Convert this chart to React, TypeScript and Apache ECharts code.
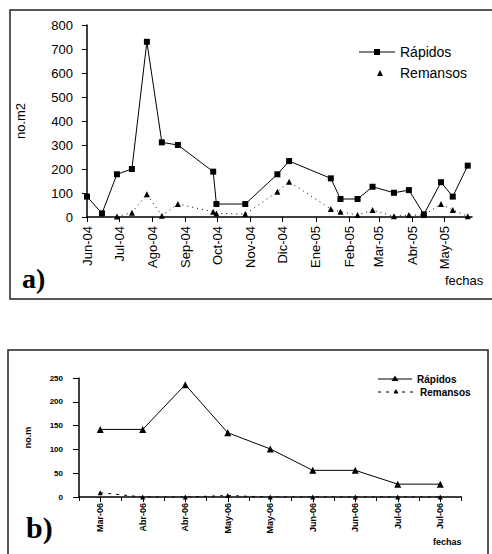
import React, { useEffect, useRef } from "react";
import * as echarts from "echarts";

// ---------- Chart a) ----------
const datesA = [
  "2004-06-01", "2004-06-15", "2004-06-29", "2004-07-13", "2004-07-27", "2004-08-10",
  "2004-08-25", "2004-09-27", "2004-09-30", "2004-10-27", "2004-11-26", "2004-12-07",
  "2005-01-15", "2005-01-24", "2005-02-09", "2005-02-23", "2005-03-15", "2005-03-29",
  "2005-04-12", "2005-04-28", "2005-05-09", "2005-05-23",
];
const rapidosA = [85, 15, 178, 200, 730, 311, 300, 189, 54, 54, 178, 233, 161, 75, 75, 126, 101, 112, 11, 145, 85, 214];
const remansosA = [null, null, 2, 18, 95, 5, 54, 22, 15, 12, 105, 147, 33, 22, 8, 29, 3, 8, 8, 54, 29, 3];
const monthLabelsA = ["Jun-04", "Jul-04", "Ago-04", "Sep-04", "Oct-04", "Nov-04", "Dic-04", "Ene-05", "Feb-05", "Mar-05", "Abr-05", "May-05"];
const yTicksA = [0, 100, 200, 300, 400, 500, 600, 700, 800];

// ---------- Chart b) ----------
const categoriesB = ["Mar-06", "Abr-06", "Abr-06", "May-06", "May-06", "Jun-06", "Jun-06", "Jul-06", "Jul-06"];
const rapidosB = [142, 142, 236, 135, 101, 56, 56, 27, 27];
const remansosB = [9, 0, 0, 3, 0, 0, 0, 0, 0];
const yTicksB = [0, 50, 100, 150, 200, 250];

const DAY = 86400000;
const origin = Date.UTC(2004, 5, 1);
const toDay = (s: string) => {
  const [y, m, d] = s.split("-").map(Number);
  return Math.round((Date.UTC(y, m - 1, d) - origin) / DAY);
};
const monthDays = monthLabelsA.map((_, i) => Math.round((Date.UTC(2004, 5 + i, 1) - origin) / DAY));

const SANS = "'Liberation Sans', Arial, sans-serif";

export default function App() {
  const ref = useRef<HTMLDivElement>(null);
  useEffect(() => {
    if (!ref.current) return;
    const chart = echarts.init(ref.current, undefined, { renderer: "svg" });
    const black = "#000";
    const option: any = {
      animation: false,
      backgroundColor: "#fff",
      grid: [
        { left: 87, top: 25, width: 385, height: 192 },
        { left: 79, top: 378, width: 382.5, height: 119 },
      ],
      xAxis: [
        {
          type: "value",
          gridIndex: 0,
          min: 0,
          max: 360,
          axisLine: { show: true, onZero: false, lineStyle: { color: black, width: 1.5 } },
          axisTick: { show: true, length: 5, lineStyle: { color: black }, customValues: monthDays },
          axisLabel: {
            customValues: monthDays,
            rotate: 90,
            fontSize: 13,
            fontFamily: SANS,
            color: black,
            margin: 9,
            formatter: (v: number) => {
              const i = monthDays.indexOf(Math.round(v));
              return i >= 0 ? monthLabelsA[i] : "";
            },
          },
          splitLine: { show: false },
        },
        {
          type: "category",
          gridIndex: 1,
          position: "bottom",
          data: categoriesB,
          boundaryGap: true,
          axisLine: { show: true, onZero: false, lineStyle: { color: black, width: 1.5 } },
          axisTick: { show: true, alignWithLabel: true, length: 5, lineStyle: { color: black } },
          axisLabel: {
            interval: 0,
            rotate: 90,
            fontSize: 9,
            fontWeight: "bold",
            fontFamily: SANS,
            color: black,
            margin: 6,
          },
          splitLine: { show: false },
        },
        {
          type: "category",
          gridIndex: 1,
          position: "bottom",
          data: categoriesB,
          boundaryGap: true,
          axisLine: { show: false },
          axisTick: { show: true, interval: 0, length: 4, lineStyle: { color: black } },
          axisLabel: { show: false },
          splitLine: { show: false },
        },
      ],
      yAxis: [
        {
          type: "value",
          gridIndex: 0,
          min: yTicksA[0],
          max: yTicksA[yTicksA.length - 1],
          interval: 100,
          name: "no.m2",
          nameLocation: "middle",
          nameRotate: 90,
          nameGap: 60,
          nameTextStyle: { fontSize: 13, fontFamily: SANS, color: black },
          axisLine: { show: true, lineStyle: { color: black, width: 1.5 } },
          axisTick: { show: true, length: 5, lineStyle: { color: black } },
          axisLabel: { fontSize: 13, fontFamily: SANS, color: black, margin: 14 },
          splitLine: { show: false },
        },
        {
          type: "value",
          gridIndex: 1,
          min: yTicksB[0],
          max: yTicksB[yTicksB.length - 1],
          interval: 50,
          name: "no.m",
          nameLocation: "middle",
          nameRotate: 90,
          nameGap: 47,
          nameTextStyle: { fontSize: 9, fontWeight: "bold", fontFamily: SANS, color: black },
          axisLine: { show: true, lineStyle: { color: black, width: 1.5 } },
          axisTick: { show: true, length: 6, lineStyle: { color: black } },
          axisLabel: { fontSize: 8, fontWeight: "bold", fontFamily: SANS, color: black, margin: 16 },
          splitLine: { show: false },
        },
      ],
      series: [
        {
          name: "Rápidos",
          type: "line",
          xAxisIndex: 0,
          yAxisIndex: 0,
          data: datesA.map((d, i) => [toDay(d), rapidosA[i]]),
          symbol: "rect",
          symbolSize: 6,
          itemStyle: { color: black },
          lineStyle: { color: black, width: 1 },
        },
        {
          name: "Remansos",
          type: "line",
          xAxisIndex: 0,
          yAxisIndex: 0,
          data: datesA
            .map((d, i) => [toDay(d), remansosA[i]])
            .filter((p) => p[1] !== null),
          symbol: "triangle",
          symbolSize: 6,
          itemStyle: { color: black },
          lineStyle: { color: black, width: 1, type: [1, 4] },
        },
        {
          name: "Rápidos b",
          type: "line",
          xAxisIndex: 1,
          yAxisIndex: 1,
          data: rapidosB,
          symbol: "triangle",
          symbolSize: 7,
          itemStyle: { color: black },
          lineStyle: { color: black, width: 1 },
        },
        {
          name: "Remansos b",
          type: "line",
          xAxisIndex: 1,
          yAxisIndex: 1,
          data: remansosB,
          symbol: "triangle",
          symbolSize: 5,
          itemStyle: { color: black },
          lineStyle: { color: black, width: 1, type: [3, 5] },
        },
      ],
      graphic: [
        // frames
        { type: "rect", shape: { x: 10, y: 10, width: 490, height: 289 }, style: { fill: "none", stroke: "#222", lineWidth: 1.5 } },
        { type: "rect", shape: { x: 8, y: 350, width: 480, height: 215 }, style: { fill: "none", stroke: "#222", lineWidth: 1.5 } },
        // legend a
        { type: "line", shape: { x1: 359, y1: 52, x2: 395, y2: 52 }, style: { stroke: black, lineWidth: 1 } },
        { type: "rect", shape: { x: 374, y: 49, width: 6, height: 6 }, style: { fill: black } },
        { type: "text", x: 400, y: 52, style: { text: "Rápidos", font: `14px ${SANS}`, fill: black, verticalAlign: "middle" } },
        { type: "polygon", shape: { points: [[380, 70], [377, 76], [383, 76]] }, style: { fill: black } },
        { type: "text", x: 400, y: 73, style: { text: "Remansos", font: `14px ${SANS}`, fill: black, verticalAlign: "middle" } },
        // labels a
        { type: "text", x: 22, y: 264, style: { text: "a)", font: `bold 28px 'Liberation Serif', serif`, fill: black } },
        { type: "text", x: 445, y: 274, style: { text: "fechas", font: `13px ${SANS}`, fill: black } },
        // legend b
        { type: "line", shape: { x1: 378, y1: 379, x2: 412, y2: 379 }, style: { stroke: black, lineWidth: 1 } },
        { type: "polygon", shape: { points: [[395, 375.5], [391.5, 381], [398.5, 381]] }, style: { fill: black } },
        { type: "text", x: 417, y: 379, style: { text: "Rápidos", font: `bold 10px ${SANS}`, fill: black, verticalAlign: "middle" } },
        { type: "line", shape: { x1: 378, y1: 392, x2: 416, y2: 392 }, style: { stroke: black, lineWidth: 1, lineDash: [3, 5] } },
        { type: "polygon", shape: { points: [[396, 389], [393.5, 393.5], [398.5, 393.5]] }, style: { fill: black } },
        { type: "text", x: 420, y: 392, style: { text: "Remansos", font: `bold 10px ${SANS}`, fill: black, verticalAlign: "middle" } },
        // labels b
        { type: "text", x: 26, y: 512, style: { text: "b)", font: `bold 30px 'Liberation Serif', serif`, fill: black } },
        { type: "text", x: 433, y: 537, style: { text: "fechas", font: `bold 9px ${SANS}`, fill: black } },
      ],
    };
    chart.setOption(option);
    return () => chart.dispose();
  }, []);
  return (
    <div
      ref={ref}
      style={{ position: "absolute", left: 0, top: 0, width: 492, height: 554, background: "#fff" }}
    />
  );
}
